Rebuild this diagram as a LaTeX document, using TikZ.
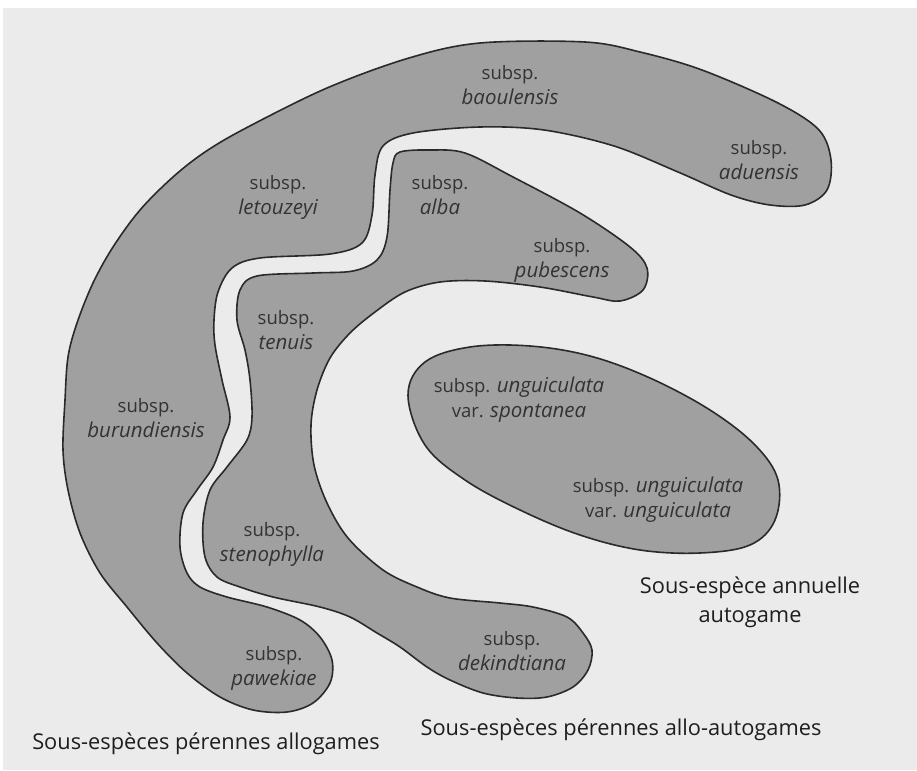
\documentclass[tikz,border=0pt]{standalone}
\usepackage{fontspec}
\setmainfont{Open Sans}
\newcommand{\spname}[1]{{\fontsize{20.5}{25}\selectfont\itshape #1}}
\begin{document}
\begin{tikzpicture}[x=1pt,y=-1pt,
  blob/.style={fill=blobgray,draw=outline,line width=1.6pt},
  lbl/.style={align=center,font=\fontsize{18.5}{25}\selectfont,text=labeltext,inner sep=0pt},
  captxt/.style={align=center,font=\fontsize{21.8}{29}\selectfont,text=captext,inner sep=0pt}]
\definecolor{bggray}{HTML}{EBEBEB}
\definecolor{blobgray}{HTML}{A0A0A0}
\definecolor{outline}{HTML}{2A2A2A}
\definecolor{labeltext}{HTML}{333333}
\definecolor{captext}{HTML}{1E1E1E}
\useasboundingbox (0,0) rectangle (917,770);
\fill[white] (0,0) rectangle (917,770);
\fill[bggray] (3,8) rectangle (917,770);
% perennial allogamous (outer C)
\draw[blob] plot[smooth cycle,tension=0.55] coordinates {
 (63,450) (65,400) (68,357) (77,323) (93,283) (113,247) (140,210) (173,177)
 (205,152) (246,128) (327,88) (409,58) (480,43) (585,42) (640,52) (702,70)
 (778,103) (819,130) (831,160) (827,190) (805,205) (770,205) (731,195) (678,172)
 (614,146) (544,130) (480,127) (413,133) (383,146) (375,175) (372,215) (362,243)
 (330,254) (260,258) (232,268) (218,292) (214,320) (215,345) (222,380) (230,417)
 (223,440) (213,467) (197,490) (183,513) (180,547) (187,573) (200,587) (227,597)
 (267,607) (300,620) (320,637) (332,660) (330,683) (313,703) (287,712) (253,710)
 (220,697) (187,673) (157,643) (127,607) (100,573) (80,533) (68,490)};
% perennial allo-autogamous (middle)
\draw[blob] plot[smooth cycle,tension=0.55] coordinates {
 (400,152) (430,150) (465,153) (513,177) (580,213) (630,247) (647,268) (643,290)
 (620,301) (593,297) (540,287) (485,281) (440,282) (405,292) (375,312) (350,333)
 (330,358) (317,390) (311,425) (314,465) (327,503) (348,538) (383,570) (417,587)
 (450,598) (500,603) (533,607) (567,617) (583,633) (592,650) (588,670) (573,687)
 (547,697) (517,698) (483,693) (450,680) (427,667) (400,647) (377,633) (350,617)
 (320,607) (273,597) (240,587) (217,577) (205,557) (203,523) (210,490) (227,467)
 (247,440) (252,417) (250,380) (245,350) (237,320) (240,290) (257,276) (313,273)
 (353,271) (377,260) (387,237) (390,190) (393,163)};
% annual autogamous (ellipse)
\draw[blob] plot[smooth cycle,tension=0.6] coordinates {
 (408,395) (425,362) (470,347) (530,346) (590,356) (650,378) (710,410) (755,445)
 (778,480) (775,520) (750,545) (700,553) (640,550) (580,535) (520,510) (465,480)
 (425,445)};
% labels
\node[lbl] (baoulensis) at (510,85) {subsp.\\\spname{baoulensis}};
\node[lbl] (aduensis) at (759,160) {subsp.\\\spname{aduensis}};
\node[lbl] (letouzeyi) at (278,197) {subsp.\\\spname{letouzeyi}};
\node[lbl] (alba) at (440,195) {subsp.\\\spname{alba}};
\node[lbl] (pubescens) at (562,260) {subsp.\\\spname{pubescens}};
\node[lbl] (tenuis) at (286,330) {subsp.\\\spname{tenuis}};
\node[lbl] (burundiensis) at (146,418) {subsp.\\\spname{burundiensis}};
\node[lbl] (stenophylla) at (272,544) {subsp.\\\spname{stenophylla}};
\node[lbl] (pawekiae) at (274,668) {subsp.\\\spname{pawekiae}};
\node[lbl] (dekindtiana) at (512,651) {subsp.\\\spname{dekindtiana}};
\node[lbl] (spontanea) at (519,400) {subsp. \spname{unguiculata}\\var. \spname{spontanea}};
\node[lbl] (unguiculata) at (658,500) {subsp. \spname{unguiculata}\\var. \spname{unguiculata}};
\node[captxt] (annual) at (750,602) {Sous-espèce annuelle\\autogame};
\node[captxt] (alloauto) at (621,730) {Sous-espèces pérennes allo-autogames};
\node[captxt] (allo) at (206,744) {Sous-espèces pérennes allogames};
\end{tikzpicture}
\end{document}
